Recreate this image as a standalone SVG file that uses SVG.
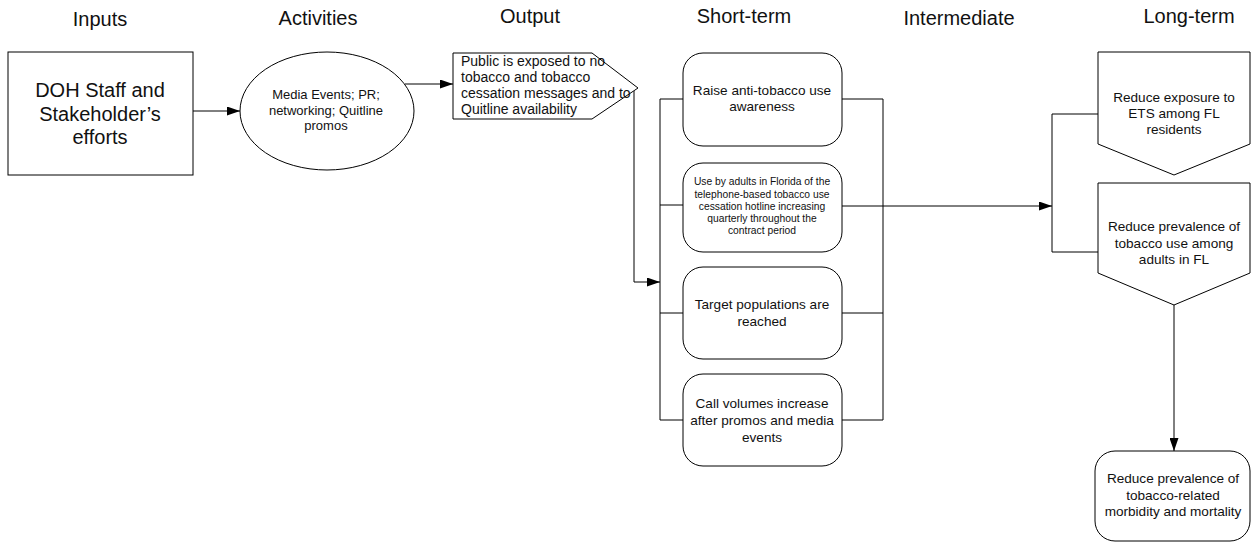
<svg xmlns="http://www.w3.org/2000/svg" width="1252" height="544" viewBox="0 0 1252 544">
<style>
text{font-family:"Liberation Sans",Arial,sans-serif;fill:#111;text-anchor:middle}
.h{font-size:20px}
.shape{fill:#fff;stroke:#000;stroke-width:1}
.c{fill:none;stroke:#000;stroke-width:1}
.t14{font-size:13.6px}
.t13{font-size:13px}
.t10{font-size:10.3px}
</style>
<defs>
<marker id="arr" markerWidth="13" markerHeight="9" refX="13" refY="4.5" orient="auto" markerUnits="userSpaceOnUse">
<path d="M0,0 L13,4.5 L0,9 Z" fill="#000"/>
</marker>
</defs>
<g id="headers">
<text class="h" x="100" y="26">Inputs</text>
<text class="h" x="318" y="25">Activities</text>
<text class="h" x="530" y="23">Output</text>
<text class="h" x="744" y="23">Short-term</text>
<text class="h" x="959" y="25">Intermediate</text>
<text class="h" x="1189" y="23">Long-term</text>
</g>
<g id="connectors">
<path class="c" d="M193 111 H240" marker-end="url(#arr)"/>
<path class="c" d="M405 84 H453" marker-end="url(#arr)"/>
<path class="c" d="M634 91 V282 H660" marker-end="url(#arr)"/>
<path class="c" d="M660 99 V420"/>
<path class="c" d="M660 99 H683 M660 205 H683 M660 313 H683 M660 420 H683"/>
<path class="c" d="M883 99 V420"/>
<path class="c" d="M842 99 H883 M842 313 H883 M842 420 H883"/>
<path class="c" d="M842 206 H1052" marker-end="url(#arr)"/>
<path class="c" d="M1052 114 V252 M1052 114 H1098 M1052 252 H1098"/>
<path class="c" d="M1174 305 V451" marker-end="url(#arr)"/>
</g>
<g id="inputs">
<rect class="shape" x="8" y="52" width="185" height="123"/>
<text class="h" x="100" y="97">DOH Staff and</text>
<text class="h" x="100" y="120.5">Stakeholder’s</text>
<text class="h" x="100" y="144">efforts</text>
</g>
<g id="activities">
<ellipse class="shape" cx="327" cy="111" rx="87" ry="59"/>
<text class="t13" x="326" y="99">Media Events; PR;</text>
<text class="t13" x="326" y="114.5">networking; Quitline</text>
<text class="t13" x="326" y="130">promos</text>
</g>
<g id="output">
<path class="shape" d="M453 53 H592 L638 88 L592 119 H453 Z"/>
<text x="461" y="66" style="font-size:14px;text-anchor:start">Public is exposed to no</text>
<text x="461" y="82" style="font-size:14px;text-anchor:start">tobacco and tobacco</text>
<text x="461" y="98" style="font-size:14px;text-anchor:start">cessation messages and to</text>
<text x="461" y="114" style="font-size:14px;text-anchor:start">Quitline availability</text>
</g>
<g id="st1">
<rect class="shape" x="683" y="53" width="159" height="93" rx="20" ry="20"/>
<text class="t14" x="762" y="95">Raise anti-tobacco use</text>
<text class="t14" x="762" y="111">awareness</text>
</g>
<g id="st2">
<rect class="shape" x="683" y="163" width="159" height="89" rx="20" ry="20"/>
<text class="t10" x="762" y="185">Use by adults in Florida of the</text>
<text class="t10" x="762" y="197.5">telephone-based tobacco use</text>
<text class="t10" x="762" y="209.5">cessation hotline increasing</text>
<text class="t10" x="762" y="222">quarterly throughout the</text>
<text class="t10" x="762" y="234">contract period</text>
</g>
<g id="st3">
<rect class="shape" x="683" y="267" width="159" height="92" rx="20" ry="20"/>
<text class="t14" x="762" y="309">Target populations are</text>
<text class="t14" x="762" y="325.5">reached</text>
</g>
<g id="st4">
<rect class="shape" x="683" y="374" width="159" height="92" rx="20" ry="20"/>
<text class="t14" x="762" y="408">Call volumes increase</text>
<text class="t14" x="762" y="425">after promos and media</text>
<text class="t14" x="762" y="441.5">events</text>
</g>
<g id="lt1">
<path class="shape" d="M1098 52 H1250 V144 L1174 175 L1098 144 Z"/>
<text class="t14" x="1174" y="102">Reduce exposure to</text>
<text class="t14" x="1174" y="118">ETS among FL</text>
<text class="t14" x="1174" y="134">residents</text>
</g>
<g id="lt2">
<path class="shape" d="M1098 183 H1250 V273 L1174 305 L1098 273 Z"/>
<text class="t14" x="1174" y="231">Reduce prevalence of</text>
<text class="t14" x="1174" y="247.5">tobacco use among</text>
<text class="t14" x="1174" y="264">adults in FL</text>
</g>
<g id="lt3">
<rect class="shape" x="1095" y="451" width="155" height="90" rx="20" ry="20"/>
<text class="t14" x="1173" y="483">Reduce prevalence of</text>
<text class="t14" x="1173" y="499.5">tobacco-related</text>
<text class="t14" x="1173" y="516">morbidity and mortality</text>
</g>
</svg>
